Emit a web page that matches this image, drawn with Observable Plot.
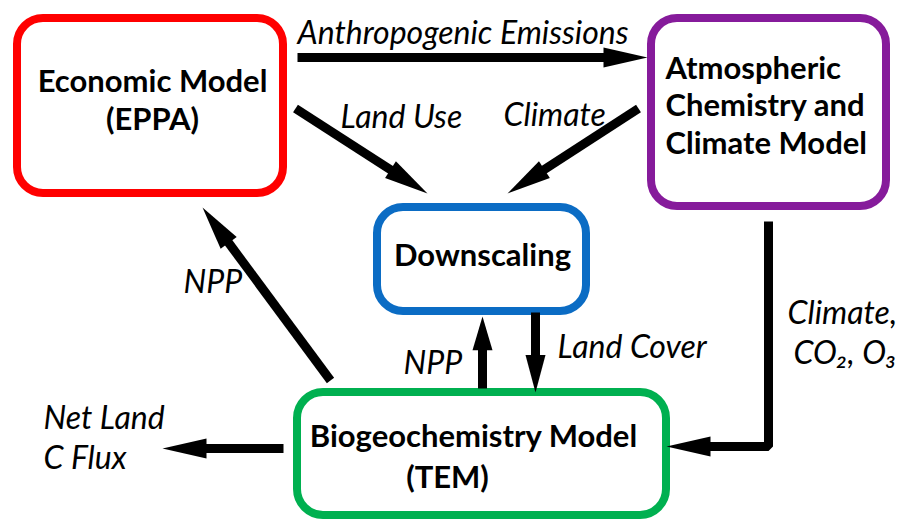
<!DOCTYPE html>
<html>
<head>
<meta charset="utf-8">
<script src="https://cdn.jsdelivr.net/npm/d3@7"></script>
<script src="https://cdn.jsdelivr.net/npm/@observablehq/plot@0.6"></script>
<style>
  html, body { margin: 0; padding: 0; background: #fff; }
</style>
</head>
<body>
<div id="chart"></div>
<script>
// ---- content ----
const boxNames = ["EPPA", "ACCM", "DOWN", "TEM"];
const boxLines = [
  ["Economic Model", "(EPPA)"],
  ["Atmospheric", "Chemistry and", "Climate Model"],
  ["Downscaling"],
  ["Biogeochemistry Model", "(TEM)"]
];
const boxColors = ["#ff0000", "#861b9b", "#0b6cc4", "#00b050"];
const flowNames = ["emissions", "landuse", "climate", "nppEcon", "nppDown", "landcover", "climateCO2", "netflux"];
const flowLabels = [
  ["Anthropogenic Emissions"],
  ["Land Use"],
  ["Climate"],
  ["NPP"],
  ["NPP"],
  ["Land Cover"],
  ["Climate,", "CO\u2082, O\u2083"],
  ["Net Land", "C Flux"]
];

// ---- layout (pixel space of the diagram) ----
const boxFrames = [ // x1, y1, x2, y2
  [17, 18, 283, 193],
  [651, 18, 886, 206],
  [377, 207, 586, 311],
  [297, 392, 666, 515]
];
const boxTextPos = [ // per line: x, baseline y, anchor
  [[152, 91, "middle"], [152, 129, "middle"]],
  [[665, 78, "start"], [665, 115, "start"], [665, 153, "start"]],
  [[482, 265, "middle"]],
  [[473, 446, "middle"], [447, 487, "middle"]]
];
const flowPaths = [
  [[297, 57], [647, 57]],
  [[295, 108], [427, 193]],
  [[638, 108], [507, 193]],
  [[330, 380], [202, 207]],
  [[482, 388], [482, 316]],
  [[535, 312], [535, 392]],
  [[768, 221], [768, 446], [666, 446]],
  [[283, 448], [162, 448]]
];
const flowTextPos = [
  [[297, 43]],
  [[340, 127]],
  [[503, 125]],
  [[183, 292]],
  [[403, 373]],
  [[557, 357]],
  [[787, 323], [793, 363]],
  [[43, 428], [43, 468]]
];

// ---- derived tables ----
const rects = boxNames.map((id, i) => {
  const [x1, y1, x2, y2] = boxFrames[i];
  return {id, x1, y1, x2, y2, color: boxColors[i]};
});
const boxTexts = boxNames.flatMap((id, i) =>
  boxLines[i].map((t, j) => ({id, text: t, x: boxTextPos[i][j][0], y: boxTextPos[i][j][1], anchor: boxTextPos[i][j][2]})));
const flowTexts = flowNames.flatMap((id, i) =>
  flowLabels[i].map((t, j) => ({id, text: t, x: flowTextPos[i][j][0], y: flowTextPos[i][j][1]})));

const shafts = [], heads = [];
flowNames.forEach((id, i) => {
  const pts = flowPaths[i];
  const n = pts.length;
  const [tx, ty] = pts[n - 1], [px, py] = pts[n - 2];
  const len = Math.hypot(tx - px, ty - py);
  const ux = (tx - px) / len, uy = (ty - py) / len;
  const L = Math.min(44, 0.47 * len), hw = 10;
  const bx = tx - L * ux, by = ty - L * uy;
  const sx = tx - 0.8 * L * ux, sy = ty - 0.8 * L * uy;
  pts.slice(0, n - 1).forEach(([x, y]) => shafts.push({id, x, y}));
  shafts.push({id, x: sx, y: sy});
  heads.push({id, x: tx, y: ty});
  heads.push({id, x: bx - hw * uy, y: by + hw * ux});
  heads.push({id, x: bx + hw * uy, y: by - hw * ux});
});

const FONT = "Lato, 'Open Sans', sans-serif";
const boldText = (anchor) => Plot.text(boxTexts.filter(d => d.anchor === anchor), {
  x: "x", y: "y", text: "text", textAnchor: anchor, lineAnchor: "bottom",
  fontFamily: FONT, fontWeight: "bold", fontSize: 31, fill: "black"
});

const chart = Plot.plot({
  width: 899,
  height: 521,
  margin: 0,
  x: {domain: [0, 899], range: [0, 899], axis: null},
  y: {domain: [0, 521], range: [0, 521], axis: null},
  style: {background: "#fff"},
  marks: [
    Plot.rect(rects, {x1: "x1", x2: "x2", y1: "y1", y2: "y2", rx: 26, stroke: d => d.color, strokeWidth: 8, fill: "white"}),
    Plot.line(shafts, {x: "x", y: "y", z: "id", stroke: "black", strokeWidth: 9, strokeLinecap: "butt", strokeLinejoin: "miter", curve: "linear"}),
    Plot.line(heads, {x: "x", y: "y", z: "id", fill: "black", stroke: "none", curve: "linear"}),
    boldText("middle"),
    boldText("start"),
    Plot.text(flowTexts, {x: "x", y: "y", text: "text", textAnchor: "start", lineAnchor: "bottom", fontFamily: FONT, fontStyle: "italic", fontSize: 32, fill: "black"})
  ]
});
document.getElementById("chart").appendChild(chart);
</script>
</body>
</html>
